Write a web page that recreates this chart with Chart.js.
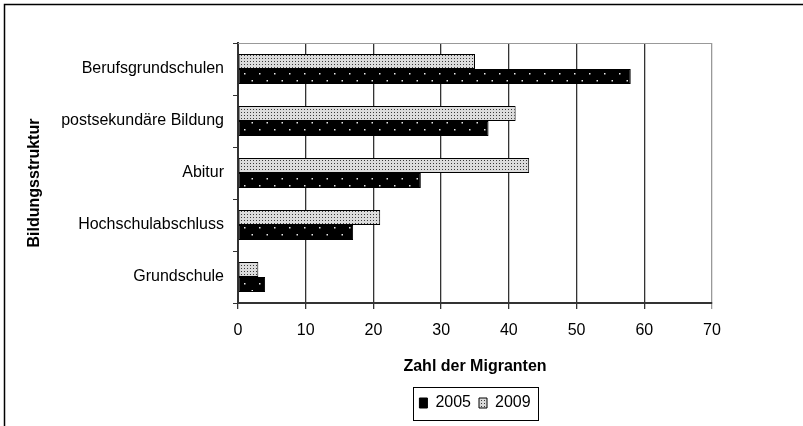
<!DOCTYPE html>
<html>
<head>
<meta charset="utf-8">
<script src="https://cdn.jsdelivr.net/npm/chart.js@4"></script>
<style>
  html, body { margin: 0; padding: 0; background: #fff; }
  #wrap { width: 803px; height: 426px; }
</style>
</head>
<body>
<div id="wrap"><canvas id="c" width="803" height="426"></canvas></div>
<script>
// Educational structure of migrants, 2005 vs 2009
const categories = ['Berufsgrundschulen', 'postsekundäre Bildung', 'Abitur', 'Hochschulabschluss', 'Grundschule'];
const values2009 = [35, 41, 43, 21, 3];
const values2005 = [58, 37, 27, 17, 4];
const xTicks = [0, 10, 20, 30, 40, 50, 60, 70];
const xTitle = 'Zahl der Migranten';
const yTitle = 'Bildungsstruktur';

const FONT = '"Liberation Sans", Arial, sans-serif';

// Black fill with sparse white dots
function darkPattern() {
  const t = document.createElement('canvas');
  t.width = 15; t.height = 14;
  const g = t.getContext('2d');
  g.fillStyle = '#000';
  g.fillRect(0, 0, 15, 14);
  g.fillStyle = '#e8e8e8';
  g.fillRect(4, 3, 1.5, 1.5);
  g.fillRect(11.5, 10, 1.5, 1.5);
  return g.createPattern(t, 'repeat');
}

// Light grey stipple
function lightPattern() {
  const t = document.createElement('canvas');
  t.width = 3; t.height = 3;
  const g = t.getContext('2d');
  g.fillStyle = '#dcdcdc';
  g.fillRect(0, 0, 3, 3);
  g.fillStyle = '#3a3a3a';
  g.fillRect(1, 1, 1, 1);
  return g.createPattern(t, 'repeat');
}

const framePlugin = {
  id: 'frame',
  afterDraw(chart) {
    const ctx = chart.ctx;
    const a = chart.chartArea;
    ctx.save();
    // outer frame
    ctx.strokeStyle = '#000';
    ctx.lineWidth = 1.5;
    ctx.strokeRect(4.5, 4.5, 820, 440);
    // top edge of plot area
    ctx.strokeStyle = '#999';
    ctx.lineWidth = 1;
    ctx.beginPath();
    ctx.moveTo(a.left, a.top + 0.5);
    ctx.lineTo(a.right, a.top + 0.5);
    ctx.stroke();
    // legend box
    const lg = chart.legend;
    if (lg && lg.legendHitBoxes && lg.legendHitBoxes.length) {
      let l = Infinity, r = -Infinity;
      lg.legendHitBoxes.forEach(h => { l = Math.min(l, h.left); r = Math.max(r, h.left + h.width); });
      ctx.strokeStyle = '#000';
      ctx.lineWidth = 1;
      ctx.strokeRect(Math.round(l - 6) + 0.5, Math.round(lg.top) + 0.5, Math.round(r - l + 14), Math.round(lg.bottom - lg.top - 1));
    }
    // rotated y-axis title
    ctx.fillStyle = '#000';
    ctx.font = 'bold 16px ' + FONT;
    ctx.textAlign = 'center';
    ctx.textBaseline = 'middle';
    ctx.translate(35, 183);
    ctx.rotate(-Math.PI / 2);
    ctx.fillText(yTitle, 0, 0);
    ctx.restore();
  }
};

new Chart(document.getElementById('c'), {
  type: 'bar',
  data: {
    labels: categories,
    datasets: [
      {
        label: '2009',
        data: values2009,
        backgroundColor: lightPattern(),
        borderColor: '#000',
        borderWidth: 1,
        borderSkipped: false,
        categoryPercentage: 0.58,
        barPercentage: 1.0
      },
      {
        label: '2005',
        data: values2005,
        backgroundColor: darkPattern(),
        borderColor: '#000',
        borderWidth: 1,
        borderSkipped: false,
        categoryPercentage: 0.58,
        barPercentage: 1.0
      }
    ]
  },
  options: {
    indexAxis: 'y',
    responsive: false,
    animation: false,
    devicePixelRatio: 1,
    layout: { padding: { top: 43, right: 91, bottom: 5, left: 0 } },
    scales: {
      x: {
        min: 0,
        max: 70,
        afterBuildTicks(scale) { scale.ticks = xTicks.map(v => ({ value: v })); },
        afterFit(scale) { scale.height = 84; },
        ticks: {
          color: '#000',
          font: { family: FONT, size: 16 },
          padding: 12
        },
        grid: {
          color: ctx => (ctx.tick && ctx.tick.value === 70 ? '#999' : '#333'),
          lineWidth: 1.3,
          tickLength: 6,
          drawTicks: true
        },
        border: { color: '#333', width: 2 },
        title: {
          display: true,
          text: xTitle,
          color: '#000',
          font: { family: FONT, size: 16, weight: 'bold' },
          padding: { top: 0, bottom: 11 }
        }
      },
      y: {
        afterFit(scale) { scale.width = 238; },
        ticks: {
          color: '#000',
          font: { family: FONT, size: 16 },
          padding: 9
        },
        grid: {
          drawOnChartArea: false,
          color: '#333',
          tickLength: 5
        },
        border: { color: '#333', width: 2 }
      }
    },
    plugins: {
      legend: {
        position: 'bottom',
        fullSize: false,
        reverse: true,
        labels: {
          color: '#000',
          font: { family: FONT, size: 16 },
          boxWidth: 8,
          boxHeight: 10,
          padding: 8
        }
      },
      tooltip: { enabled: false }
    }
  },
  plugins: [framePlugin]
});
</script>
</body>
</html>
